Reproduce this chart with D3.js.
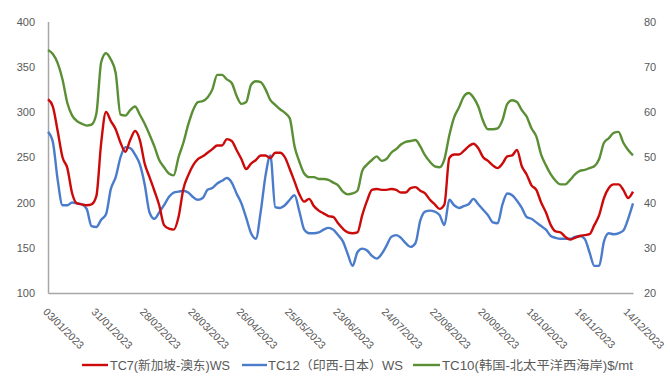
<!DOCTYPE html>
<html>
<head>
<meta charset="utf-8">
<script src="https://cdn.jsdelivr.net/npm/d3@7"></script>
<style>
  html, body { margin: 0; padding: 0; background: #fff; }
  svg { display: block; font-family: "Liberation Sans", Arial, "Noto Sans CJK SC", sans-serif; }
</style>
</head>
<body>
<svg id="chart" width="670" height="380"></svg>
<script>
// Tick labels (every 20 trading days); data sampled every 2 trading days
const dateLabels = ["03/01/2023","31/01/2023","28/02/2023","28/03/2023","26/04/2023","25/05/2023",
  "23/06/2023","24/07/2023","22/08/2023","20/09/2023","18/10/2023","16/11/2023","14/12/2023"];
const labelEvery = 10; // samples between labels

const seriesNames = ["TC7(新加坡-澳东)WS", "TC12（印西-日本）WS", "TC10(韩国-北太平洋西海岸)$/mt"];

// TC7 Singapore - East Australia (WS, left axis)
const tc7 = [314,306,279,250,238,210,199,198,197,198,207,266,300,290,281,266,256,269,279,269,
  243,228,213,197,175,171,170,184,215,230,241,248,251,255,259,263,263,270,268,258,
  248,237,243,247,252,252,249,255,255,250,237,223,209,201,204,196,191,188,185,184,
  177,171,167,166,167,186,202,214,215,214,214,215,214,211,211,216,217,213,210,203,
  198,193,198,249,253,253,257,262,265,260,250,246,241,238,243,251,252,258,240,231,
  219,214,200,189,175,168,167,162,159,161,163,164,165,175,186,205,216,220,220,214,
  205,212];

// TC12 West India - Japan (WS, left axis)
const tc12 = [278,267,225,197,197,200,199,198,193,174,173,181,187,215,228,250,261,260,253,242,
  220,189,182,189,197,206,211,212,213,211,206,203,205,214,216,221,224,227,222,210,
  199,183,166,160,190,230,252,195,194,197,203,208,190,170,166,166,167,170,172,170,
  164,157,143,130,145,149,147,141,138,143,152,162,164,161,155,151,155,180,190,191,
  190,186,175,203,197,194,196,198,204,198,192,186,178,177,198,210,208,202,194,184,
  182,178,174,170,163,161,160,160,160,162,163,160,145,130,130,157,166,165,166,169,
  182,199];

// TC10 Korea - North Pacific West Coast ($/mt, right axis)
const tc10 = [73.7,72.8,70.8,67.2,62.0,59.2,58.0,57.4,57.0,57.2,59.6,71.0,73.0,71.6,68.6,59.4,59.2,60.4,61.2,59.4,
  57.4,55.0,52.4,49.4,47.8,46.4,46.0,50.0,53.2,57.2,60.4,62.2,62.4,63.2,65.0,68.2,68.2,67.2,66.4,63.6,
  61.8,62.2,66.0,66.8,66.6,65.0,62.6,61.6,60.6,59.8,58.6,52.4,49.0,46.4,45.6,45.6,45.2,45.2,45.0,44.4,
  43.8,42.4,41.8,42.0,42.6,47.0,48.4,49.4,50.2,49.2,49.6,51.0,51.8,52.8,53.4,53.6,53.8,52.4,50.4,49.0,
  48.0,47.8,49.6,54.8,58.8,61.0,63.4,64.2,63.2,61.2,58.0,56.2,56.2,56.4,58.2,61.8,62.6,62.2,60.4,59.0,
  56.4,54.6,50.6,48.2,46.2,44.8,44.0,44.0,45.0,46.2,47.0,47.2,47.6,48.0,49.6,53.2,54.2,55.4,55.6,53.2,
  51.6,50.4];

const leftTicks = [100,150,200,250,300,350,400];
const rightTicks = [20,30,40,50,60,70,80];

const colors = ["#CC0A0A", "#4A7CCB", "#5A8F35"];
const textColor = "#595959";

const svg = d3.select("#chart");
const plot = { left: 48, right: 633, top: 21.5, bottom: 293 };

const x = d3.scaleLinear().domain([0, tc7.length - 1]).range([plot.left, plot.right]);
const yL = d3.scaleLinear().domain([100, 400]).range([plot.bottom, plot.top]);
const yR = d3.scaleLinear().domain([20, 80]).range([plot.bottom, plot.top]);

// Left axis
const leftAxis = svg.append("g").attr("transform", `translate(${plot.left},0)`)
  .call(d3.axisLeft(yL).tickValues(leftTicks).tickSize(0).tickPadding(13));
leftAxis.select(".domain").attr("stroke", "#A6A6A6").attr("stroke-width", 1.5);
leftAxis.selectAll("text").attr("fill", textColor).attr("font-size", 11);

// Right axis (labels only)
const rightAxis = svg.append("g").attr("transform", `translate(${plot.right},0)`)
  .call(d3.axisRight(yR).tickValues(rightTicks).tickSize(0).tickPadding(11));
rightAxis.select(".domain").remove();
rightAxis.selectAll("text").attr("fill", textColor).attr("font-size", 11);

// Bottom axis
const tickIdx = dateLabels.map((d, i) => i * labelEvery);
const bottomAxis = svg.append("g").attr("transform", `translate(0,${plot.bottom})`)
  .call(d3.axisBottom(x).tickValues(tickIdx).tickSize(0).tickFormat((d, i) => dateLabels[i]));
bottomAxis.select(".domain").attr("stroke", "#A6A6A6").attr("stroke-width", 1.5);
bottomAxis.selectAll("text")
  .attr("fill", textColor).attr("font-size", 10.5)
  .attr("text-anchor", "start")
  .attr("dy", null).attr("y", null)
  .attr("transform", "translate(-6,19.5) rotate(45)");

// Lines
const lineL = d3.line().x((d, i) => x(i)).y(d => yL(d)).curve(d3.curveMonotoneX);
const lineR = d3.line().x((d, i) => x(i)).y(d => yR(d)).curve(d3.curveMonotoneX);

svg.append("path").datum(tc10).attr("d", lineR)
  .attr("fill", "none").attr("stroke", colors[2]).attr("stroke-width", 2.4).attr("stroke-linejoin", "round");
svg.append("path").datum(tc12).attr("d", lineL)
  .attr("fill", "none").attr("stroke", colors[1]).attr("stroke-width", 2.4).attr("stroke-linejoin", "round");
svg.append("path").datum(tc7).attr("d", lineL)
  .attr("fill", "none").attr("stroke", colors[0]).attr("stroke-width", 2.4).attr("stroke-linejoin", "round");

// Legend
const legendItems = [
  { x1: 82, x2: 108, tx: 110, w: 120 },
  { x1: 242, x2: 267, tx: 268, w: 135 },
  { x1: 413, x2: 440, tx: 442, w: 191 }
];
const legend = svg.append("g");
legendItems.forEach((it, i) => {
  legend.append("line").attr("x1", it.x1).attr("x2", it.x2).attr("y1", 365).attr("y2", 365)
    .attr("stroke", colors[i]).attr("stroke-width", 2.4);
  legend.append("text").attr("x", it.tx).attr("y", 369.5)
    .attr("font-size", 12).attr("fill", textColor)
    .attr("textLength", it.w).attr("lengthAdjust", "spacingAndGlyphs")
    .text(seriesNames[i]);
});
</script>
</body>
</html>
